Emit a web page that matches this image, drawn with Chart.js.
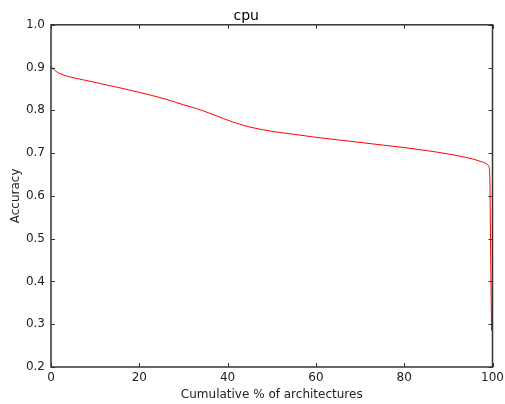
<!DOCTYPE html>
<html>
<head>
<meta charset="utf-8">
<script src="https://cdn.jsdelivr.net/npm/chart.js@4/dist/chart.umd.min.js"></script>
<style>
  html, body { margin: 0; padding: 0; background: #fff; }
  #wrap { width: 505px; height: 404px; }
</style>
</head>
<body>
<div id="wrap"><canvas id="cpuChart"></canvas></div>
<script>
// cumulative % of architectures vs accuracy
const cumPct = [0, 0.5, 1, 2, 4, 7, 11, 15, 18, 22, 26, 30, 33, 36, 39, 42, 45, 50, 55, 60,
  65, 70, 75, 80, 85, 90, 94, 96, 97.5, 98.5, 99, 99.2, 99.4, 99.5, 99.6, 99.7, 99.8];
const accuracy = [0.903, 0.897, 0.892, 0.886, 0.879, 0.872, 0.863, 0.854, 0.847, 0.837, 0.826,
  0.813, 0.804, 0.793, 0.781, 0.770, 0.761, 0.751, 0.744, 0.737, 0.731, 0.725, 0.719, 0.713,
  0.706, 0.698, 0.690, 0.685, 0.680, 0.676, 0.672, 0.668, 0.64, 0.55, 0.45, 0.36, 0.285];

const xTicks = [0, 20, 40, 60, 80, 100];
const yTicks = [0.2, 0.3, 0.4, 0.5, 0.6, 0.7, 0.8, 0.9, 1.0];

const axisColor = "#333";
const font = { family: "DejaVu Sans", size: 12 };

// matplotlib-style frame with inward ticks on all four sides
const framePlugin = {
  id: "frame",
  afterDraw(chart) {
    const c = chart.ctx;
    const a = chart.chartArea;
    const xs = chart.scales.x;
    const ys = chart.scales.y;
    const len = 4;
    c.save();
    c.strokeStyle = axisColor;
    c.lineWidth = 1;
    c.beginPath();
    xTicks.forEach((v) => {
      const px = Math.round(xs.getPixelForValue(v)) + 0.5;
      c.moveTo(px, a.bottom);
      c.lineTo(px, a.bottom - len);
      c.moveTo(px, a.top);
      c.lineTo(px, a.top + len);
    });
    yTicks.forEach((v) => {
      const py = Math.round(ys.getPixelForValue(v)) + 0.5;
      c.moveTo(a.left, py);
      c.lineTo(a.left + len, py);
      c.moveTo(a.right, py);
      c.lineTo(a.right - len, py);
    });
    c.stroke();
    c.lineWidth = 1.5;
    c.strokeRect(a.left, a.top, a.right - a.left, a.bottom - a.top);
    c.restore();
  },
};

new Chart(document.getElementById("cpuChart"), {
  type: "line",
  data: {
    datasets: [
      {
        data: cumPct.map((x, i) => ({ x: x, y: accuracy[i] })),
        borderColor: "#ff0000",
        borderWidth: 1,
        pointRadius: 0,
        fill: false,
        cubicInterpolationMode: "monotone",
        clip: false,
      },
    ],
  },
  options: {
    responsive: true,
    maintainAspectRatio: false,
    animation: false,
    layout: { padding: { left: 0, right: 12.5, top: 0, bottom: 0 } },
    plugins: {
      legend: { display: false },
      tooltip: { enabled: false },
      title: {
        display: true,
        text: "cpu",
        color: "#000",
        font: { family: "DejaVu Sans", size: 14, weight: "normal" },
        padding: { top: 8, bottom: 0 },
      },
    },
    scales: {
      x: {
        type: "linear",
        min: 0,
        max: 100,
        afterBuildTicks: (s) => { s.ticks = xTicks.map((v) => ({ value: v })); },
        afterFit: (s) => { s.height = 37; s.paddingLeft = 0; s.paddingRight = 0; },
        grid: { display: false, drawTicks: false },
        border: { display: false },
        ticks: { color: "#222", font: font, padding: 4, maxRotation: 0 },
        title: {
          display: true,
          text: "Cumulative % of architectures",
          color: "#222",
          font: font,
          padding: { top: 0, bottom: 2 },
        },
      },
      y: {
        type: "linear",
        min: 0.2,
        max: 1.0,
        afterBuildTicks: (s) => { s.ticks = yTicks.map((v) => ({ value: v })); },
        afterFit: (s) => { s.width = 51; s.paddingTop = 0; s.paddingBottom = 0; },
        grid: { display: false, drawTicks: false },
        border: { display: false },
        ticks: {
          color: "#222",
          font: font,
          padding: 6,
          callback: (v) => Number(v).toFixed(1),
        },
        title: {
          display: true,
          text: "Accuracy",
          color: "#222",
          font: font,
          padding: { top: 9, bottom: 0 },
        },
      },
    },
  },
  plugins: [framePlugin],
});
</script>
</body>
</html>
